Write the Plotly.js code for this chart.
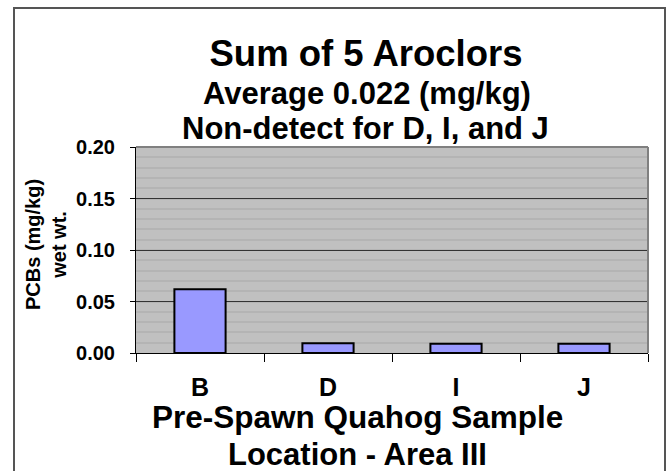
<!DOCTYPE html>
<html>
<head>
<meta charset="utf-8">
<script src="https://cdn.plot.ly/plotly-3.0.1.min.js"></script>
<style>
  html, body { margin: 0; padding: 0; background: #ffffff; }
  #chart { width: 672px; height: 471px; }
</style>
</head>
<body>
<div id="chart"></div>
<script>
// ---- data ----
const categories = ['B', 'D', 'I', 'J'];
const values = [0.062, 0.0095, 0.009, 0.009];
const yTickValues = [0, 0.05, 0.10, 0.15, 0.20];

const titleLine1 = 'Sum of 5 Aroclors';
const titleLine2 = 'Average 0.022 (mg/kg)';
const titleLine3 = 'Non-detect for D, I, and J';
const xTitleLine1 = 'Pre-Spawn Quahog Sample';
const xTitleLine2 = 'Location - Area III';
const yTitleText = 'PCBs (mg/kg)<br>wet wt.';

// ---- layout geometry (pixels) ----
const W = 672, H = 471;
const L = 136, R = 648, T = 147, B = 353;
const pw = R - L, ph = B - T;
const px = x => (x - L) / pw;
const py = y => (B - y) / ph;

const FONT = 'Liberation Sans, Arial, sans-serif';
const bold = (size) => ({ family: FONT, size: size, color: '#000000', weight: 'bold' });

const trace = {
  type: 'bar',
  x: categories,
  y: values,
  marker: { color: '#9999FF', line: { color: '#000000', width: 2 } },
  hoverinfo: 'x+y'
};

const layout = {
  width: W, height: H,
  margin: { l: L, r: W - R, t: T, b: H - B, pad: 0 },
  paper_bgcolor: '#ffffff',
  plot_bgcolor: '#C0C0C0',
  showlegend: false,
  bargap: 0.6,
  title: {
    text: titleLine1,
    font: bold(36.5),
    xref: 'container', yref: 'container',
    x: 366 / W, xanchor: 'center',
    y: 1 - 53.5 / H, yanchor: 'middle'
  },
  xaxis: {
    type: 'category',
    showline: true, linecolor: '#000000', linewidth: 1,
    ticks: 'outside', tickson: 'boundaries', ticklen: 8, tickcolor: '#000000', tickwidth: 1,
    tickfont: bold(25),
    ticklabelstandoff: 12,
    showgrid: false, zeroline: false,
    fixedrange: true
  },
  yaxis: {
    range: [0, 0.2],
    tickvals: yTickValues,
    tickformat: '.2f',
    showline: true, linecolor: '#000000', linewidth: 1,
    ticks: 'outside', ticklen: 5, tickcolor: '#000000', tickwidth: 1,
    tickfont: bold(20),
    ticklabelstandoff: 11,
    showgrid: true, gridcolor: '#333333', gridwidth: 1,
    minor: { dtick: 0.01, showgrid: true, gridcolor: '#B4B4B4', gridwidth: 2 },
    zeroline: false,
    fixedrange: true
  },
  annotations: [
    { text: titleLine2, font: bold(31), xref: 'paper', yref: 'paper',
      x: px(366.5), y: py(93.5), xanchor: 'center', yanchor: 'middle', showarrow: false },
    { text: titleLine3, font: bold(31), xref: 'paper', yref: 'paper',
      x: px(365.5), y: py(128), xanchor: 'center', yanchor: 'middle', showarrow: false },
    { text: xTitleLine1, font: bold(31.5), xref: 'paper', yref: 'paper',
      x: px(357), y: py(417), xanchor: 'center', yanchor: 'middle', showarrow: false },
    { text: xTitleLine2, font: bold(31), xref: 'paper', yref: 'paper',
      x: px(357), y: py(454), xanchor: 'center', yanchor: 'middle', showarrow: false },
    { text: yTitleText, font: bold(20), xref: 'paper', yref: 'paper',
      x: px(46), y: py(245), xanchor: 'center', yanchor: 'middle', textangle: -90, showarrow: false }
  ],
  shapes: [
    // plot frame top and right (gray)
    { type: 'line', xref: 'paper', yref: 'paper', x0: 0, x1: 1, y0: 1, y1: 1,
      line: { color: '#808080', width: 2 }, layer: 'above' },
    { type: 'line', xref: 'paper', yref: 'paper', x0: 1, x1: 1, y0: 0, y1: 1,
      line: { color: '#808080', width: 2 }, layer: 'above' },
    // outer chart border
    { type: 'rect', xref: 'paper', yref: 'paper',
      x0: px(14), x1: px(665), y0: py(490), y1: py(8),
      line: { color: '#555555', width: 2 }, fillcolor: 'rgba(0,0,0,0)', layer: 'above' }
  ]
};

Plotly.newPlot('chart', [trace], layout, { displayModeBar: false, staticPlot: true });
</script>
</body>
</html>
